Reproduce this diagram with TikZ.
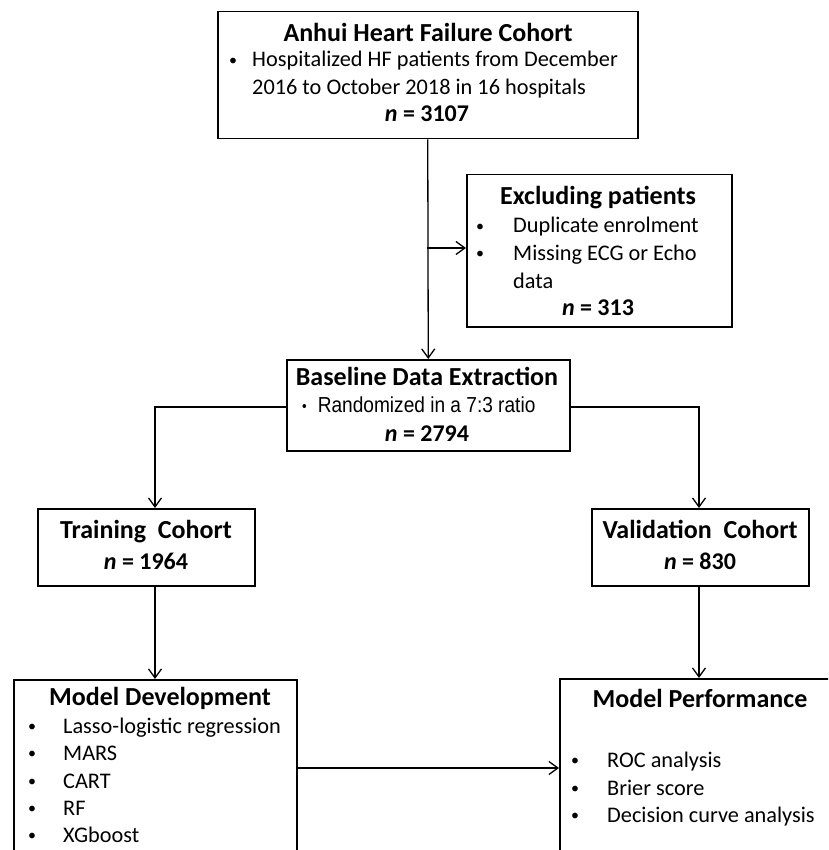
\documentclass[tikz,border=0pt]{standalone}
\usepackage{fontspec}
\setmainfont{Carlito}
\newfontfamily\narrowsans[FakeStretch=0.88]{Liberation Sans}
\usetikzlibrary{arrows.meta}
\tikzset{
  box/.style={draw, line width=1.5pt, inner sep=0pt, anchor=north west},
  ttl/.style={font=\fontsize{26}{28}\selectfont\bfseries, inner sep=0pt, anchor=base},
  txt/.style={font=\fontsize{22.3}{26}\selectfont, inner sep=0pt, anchor=base west},
  ctxt/.style={font=\fontsize{24}{26}\selectfont, inner sep=0pt, anchor=base},
  conn/.style={line width=1.3pt, -{Straight Barb[length=9pt,width=13pt,line width=1.3pt]}},
}
\newcommand{\nn}[1]{\textbf{\textit{n}~=~#1}}
\newcommand{\bul}{\raisebox{1.5pt}{\fontsize{16}{16}\selectfont\textbullet}}
\begin{document}
\begin{tikzpicture}[x=1pt,y=-1pt]
\useasboundingbox (0,0) rectangle (828,850);
\clip (0,0) rectangle (828,850);
% boxes
\node[box, minimum width=420pt, minimum height=127pt] (top) at (217,11) {};
\node[box, minimum width=265pt, minimum height=152pt] (excl) at (466,174) {};
\node[box, minimum width=283pt, minimum height=91pt] (base) at (286,359) {};
\node[box, minimum width=217pt, minimum height=77pt] (train) at (37,508) {};
\node[box, minimum width=217pt, minimum height=77pt] (valid) at (591,508) {};
\node[box, minimum width=283pt, minimum height=240pt] (dev) at (13,679) {};
\node[box, minimum width=300pt, minimum height=240pt] (perf) at (559,678) {};
% top texts
\node[ttl] (t1) at (428,42) {Anhui Heart Failure Cohort};
\node[txt] (t2b) at (229,67) {\bul};
\node[txt] (t2) at (252,67) {Hospitalized HF patients from December};
\node[txt] (t3) at (252,95) {2016 to October 2018 in 16 hospitals};
\node[ctxt] (t4) at (427,122) {\nn{3107}};
% exclusion texts
\node[ttl] (e1) at (598,205) {Excluding patients};
\node[txt] (e2b) at (476,233) {\bul};
\node[txt] (e2) at (513,233) {Duplicate enrolment};
\node[txt] (e3b) at (476,260) {\bul};
\node[txt] (e3) at (513,260) {Missing ECG or Echo};
\node[txt] (e4) at (513,288) {data};
\node[ctxt] (e5) at (598,315) {\nn{313}};
% baseline texts
\node[ttl] (b1) at (427,385) {Baseline Data Extraction};
\node[txt, font=\fontsize{21.7}{24}\narrowsans] (b2) at (302,412) {\raisebox{0.5pt}{\fontsize{15}{15}\selectfont\textbullet}\hspace{11pt}Randomized in a 7:3 ratio};
\node[ctxt] (b3) at (427,441) {\nn{2794}};
% training / validation
\node[ttl] (tr1) at (146,538) {Training\ \ Cohort};
\node[ctxt] (tr2) at (146,569) {\nn{1964}};
\node[ttl] (v1) at (700,538) {Validation\ \ Cohort};
\node[ctxt] (v2) at (700,569) {\nn{830}};
% model development
\node[ttl] (d1) at (160,705) {Model Development};
\foreach \y/\t [count=\i] in {733/Lasso-logistic regression,760/MARS,788/CART,815/RF,842/XGboost}{
  \node[txt] (db\i) at (28,\y) {\bul};
  \node[txt] (d\i) at (63,\y) {\t};
}
% model performance
\node[ttl] (p1) at (700,707) {Model Performance};
\foreach \y/\t [count=\i] in {767/ROC analysis,795/Brier score,822/Decision curve analysis}{
  \node[txt] (pb\i) at (571,\y) {\bul};
  \node[txt] (p\i) at (607,\y) {\t};
}
% connectors
\coordinate (br) at (427,248);
\draw[conn] (top.south) -- (base.north);
\draw[conn] (br) -- (excl.west |- br);
\coordinate (lb) at (155,407);
\coordinate (rb) at (699,407);
\draw[conn] (base.west |- lb) -- (lb) -- (train.north -| lb);
\draw[conn] (base.east |- rb) -- (rb) -- (valid.north -| rb);
\draw[conn] (train.south -| 155,0) -- (dev.north -| 155,0);
\draw[conn] (valid.south -| 699,0) -- (perf.north -| 699,0);
\coordinate (mr) at (0,768);
\draw[conn] (dev.east |- mr) -- (perf.west |- mr);
\end{tikzpicture}
\end{document}
